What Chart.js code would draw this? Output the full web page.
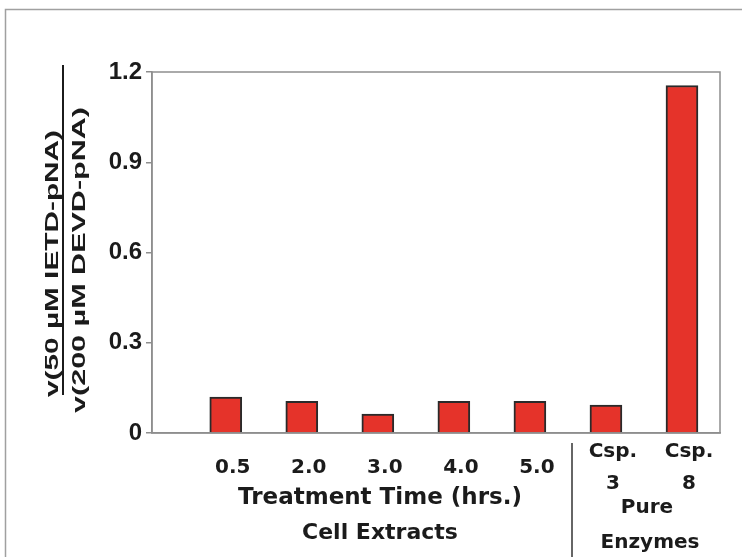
<!DOCTYPE html>
<html>
<head>
<meta charset="utf-8">
<script src="https://cdn.jsdelivr.net/npm/chart.js@4.4.1/dist/chart.umd.min.js"></script>
<style>
  html, body { margin: 0; padding: 0; background: #fff; }
  #wrap { width: 742px; height: 557px; position: relative; }
</style>
</head>
<body>
<div id="wrap"><canvas id="myChart"></canvas></div>
<script>
// categories and values
const xLabels = ['0.5', '2.0', '3.0', '4.0', '5.0', ['Csp.', '3'], ['Csp.', '8']];
const ratios = [0.119, 0.105, 0.063, 0.105, 0.105, 0.093, 1.155];
const yTicks = [0, 0.3, 0.6, 0.9, 1.2];
const groupTitles = [['Treatment Time (hrs.)', 'Cell Extracts'], ['Pure', 'Enzymes']];
const yTitle = ['v(50 \u00b5M IETD-pNA)', 'v(200 \u00b5M DEVD-pNA)'];

const gray = '#8e8e8e';
const ink = '#1b1b1b';

const extras = {
    id: 'extras',
    afterDraw(chart) {
        const ctx = chart.ctx;
        const a = chart.chartArea;
        ctx.save();
        // outer frame
        ctx.strokeStyle = '#a0a0a0';
        ctx.lineWidth = 1.5;
        ctx.strokeRect(5.5, 9.5, 800, 700);
        // plot box
        ctx.strokeStyle = gray;
        ctx.lineWidth = 1.5;
        ctx.strokeRect(a.left, a.top, a.right - a.left, a.bottom - a.top);
        // separator between groups
        ctx.strokeStyle = '#333';
        ctx.lineWidth = 1.5;
        ctx.beginPath();
        ctx.moveTo(572, 443);
        ctx.lineTo(572, 557);
        ctx.stroke();

        ctx.fillStyle = ink;
        ctx.textAlign = 'center';
        ctx.textBaseline = 'middle';
        ctx.font = 'bold 23px "DejaVu Sans"';
        ctx.fillText(groupTitles[0][0], 380, 498);
        ctx.font = 'bold 22px "DejaVu Sans"';
        ctx.fillText(groupTitles[0][1], 380, 533);
        ctx.font = 'bold 20px "DejaVu Sans"';
        ctx.fillText(groupTitles[1][0], 647, 508);
        ctx.fillText(groupTitles[1][1], 650, 543);

        // y title as a fraction
        ctx.font = 'bold 19px "Liberation Sans"';
        ctx.textAlign = 'left';
        ctx.textBaseline = 'alphabetic';
        const lines = [[58, 397, 267], [85, 413, 306]];
        lines.forEach((l, i) => {
            const w = ctx.measureText(yTitle[i]).width;
            ctx.save();
            ctx.translate(l[0], l[1]);
            ctx.rotate(-Math.PI / 2);
            ctx.scale(l[2] / w, 1);
            ctx.fillText(yTitle[i], 0, 0);
            ctx.restore();
        });
        ctx.strokeStyle = ink;
        ctx.lineWidth = 2;
        ctx.beginPath();
        ctx.moveTo(63, 65);
        ctx.lineTo(63, 395);
        ctx.stroke();
        ctx.restore();
    }
};

const data = {
    datasets: [{
        data: ratios.map((v, i) => ({ x: i, y: v })),
        backgroundColor: '#e5332a',
        borderColor: '#2a2a2a',
        borderWidth: 2,
        barThickness: 32
    }]
};

const config = {
    type: 'bar',
    data,
    options: {
        responsive: true,
        maintainAspectRatio: false,
        animation: false,
        layout: { padding: { top: 72, right: 22, left: 0, bottom: 0 } },
        plugins: { legend: { display: false }, tooltip: { enabled: false } },
        scales: {
            x: {
                type: 'linear',
                offset: false,
                min: -0.97,
                max: 6.5,
                afterBuildTicks: axis => { axis.ticks = xLabels.map((l, i) => ({ value: i })); },
                afterFit: axis => { axis.height = 124; },
                grid: { display: false, drawTicks: false, offset: false },
                border: { display: true, color: gray, width: 1.5 },
                ticks: {
                    autoSkip: false,
                    maxRotation: 0,
                    crossAlign: 'center',
                    labelOffset: 7,
                    padding: 19,
                    color: ink,
                    font: { family: 'DejaVu Sans', weight: 'bold', size: 20, lineHeight: 1.6 },
                    callback: v => xLabels[v]
                }
            },
            y: {
                min: 0,
                max: 1.2,
                afterBuildTicks: axis => { axis.ticks = yTicks.map(v => ({ value: v })); },
                afterFit: axis => { axis.width = 152; },
                grid: { drawOnChartArea: false, drawTicks: true, tickLength: 6, color: gray, lineWidth: 1.5 },
                border: { display: true, color: gray, width: 1.5 },
                ticks: {
                    padding: 4,
                    color: ink,
                    font: { family: 'Liberation Sans Narrow, Liberation Sans', weight: 'bold', size: 24 },
                    callback: v => (v === 0 ? '0' : v.toFixed(1))
                }
            }
        }
    },
    plugins: [extras]
};

new Chart(document.getElementById('myChart'), config);
</script>
</body>
</html>
